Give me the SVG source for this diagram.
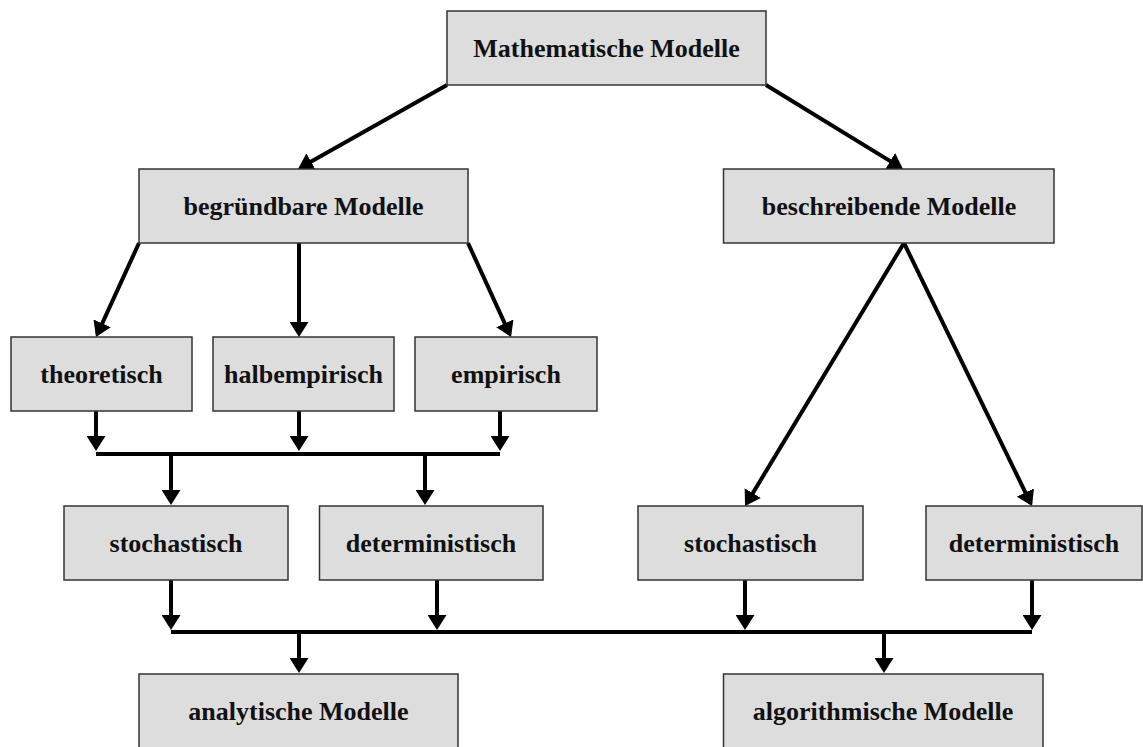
<svg xmlns="http://www.w3.org/2000/svg" width="1143" height="747" viewBox="0 0 1143 747">
<style>
.box{fill:#dddddd;stroke:#333333;stroke-width:1.5}
.lbl{font-family:"Liberation Serif","Times New Roman",serif;font-weight:bold;font-size:26px;fill:#111111;text-anchor:middle}
.c{fill:none;stroke:#000000;stroke-width:4;stroke-linecap:butt}
.a{marker-end:url(#ah)}
</style>
<defs>
<marker id="ah" markerUnits="userSpaceOnUse" viewBox="0 0 15 19" markerWidth="15" markerHeight="19" refX="12" refY="9.5" orient="auto">
<path d="M0,0 L15,9.5 L0,19 z" fill="#000000"/>
</marker>
</defs>
<rect width="1143" height="747" fill="#ffffff"/>
<g id="connectors">
<path class="c a" d="M447,85 L300.6,167.5"/>
<path class="c a" d="M766,85 L900.4,167.4"/>
<path class="c a" d="M139,243 L97.2,334.3"/>
<path class="c a" d="M299,243 L299,334"/>
<path class="c a" d="M468,243 L509.8,334.3"/>
<path class="c a" d="M904,243 L746.6,503.4"/>
<path class="c a" d="M904,243 L1030.7,503.3"/>
<path class="c a" d="M96,411 L96,448"/>
<path class="c a" d="M299,411 L299,448"/>
<path class="c a" d="M500,411 L500,448"/>
<path class="c" d="M96,454 L500,454"/>
<path class="c a" d="M171,454 L171,502"/>
<path class="c a" d="M425,454 L425,502"/>
<path class="c a" d="M171,580 L171,627"/>
<path class="c a" d="M437,580 L437,627"/>
<path class="c a" d="M745,580 L745,627"/>
<path class="c a" d="M1032,580 L1032,627"/>
<path class="c" d="M171,632 L1032,632"/>
<path class="c a" d="M299,632 L299,670"/>
<path class="c a" d="M884,632 L884,670"/>
</g>
<g id="mathematische">
<rect class="box" x="447" y="11" width="319" height="74"/>
<text class="lbl" x="606.5" y="57">Mathematische Modelle</text>
</g>
<g id="begruendbare">
<rect class="box" x="139" y="169" width="329" height="74"/>
<text class="lbl" x="303.5" y="215">begründbare Modelle</text>
</g>
<g id="beschreibende">
<rect class="box" x="723.5" y="169" width="330.5" height="74"/>
<text class="lbl" x="889" y="215">beschreibende Modelle</text>
</g>
<g id="theoretisch">
<rect class="box" x="11" y="337" width="181" height="74"/>
<text class="lbl" x="101.5" y="383">theoretisch</text>
</g>
<g id="halbempirisch">
<rect class="box" x="213" y="337" width="181" height="74"/>
<text class="lbl" x="303.5" y="383">halbempirisch</text>
</g>
<g id="empirisch">
<rect class="box" x="415" y="337" width="182" height="74"/>
<text class="lbl" x="506" y="383">empirisch</text>
</g>
<g id="stochastisch1">
<rect class="box" x="64" y="506" width="224" height="74"/>
<text class="lbl" x="176" y="552">stochastisch</text>
</g>
<g id="deterministisch1">
<rect class="box" x="319.5" y="506" width="223.5" height="74"/>
<text class="lbl" x="431" y="552">deterministisch</text>
</g>
<g id="stochastisch2">
<rect class="box" x="638" y="506" width="225" height="74"/>
<text class="lbl" x="750.5" y="552">stochastisch</text>
</g>
<g id="deterministisch2">
<rect class="box" x="926" y="506" width="216" height="74"/>
<text class="lbl" x="1034" y="552">deterministisch</text>
</g>
<g id="analytische">
<rect class="box" x="139" y="674" width="319" height="75"/>
<text class="lbl" x="298.5" y="720">analytische Modelle</text>
</g>
<g id="algorithmische">
<rect class="box" x="723.5" y="674" width="319.5" height="75"/>
<text class="lbl" x="883" y="720">algorithmische Modelle</text>
</g>
</svg>
